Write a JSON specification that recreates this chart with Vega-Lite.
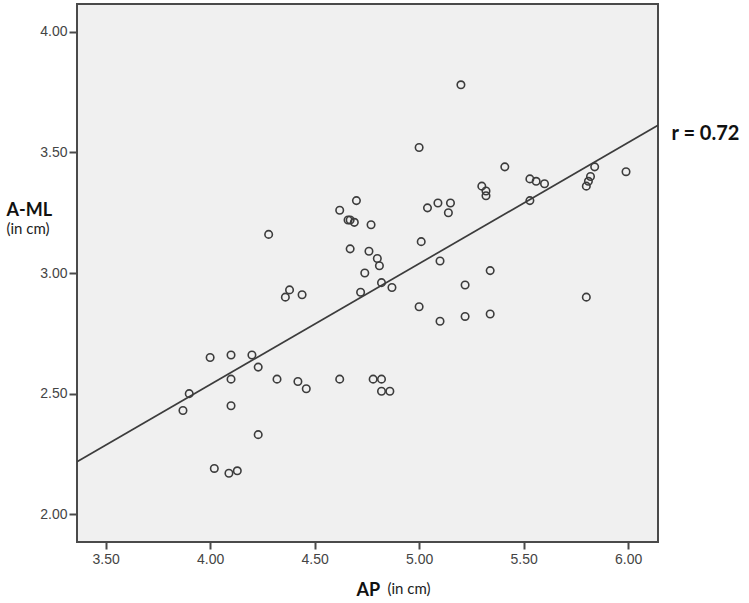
{
  "$schema": "https://vega.github.io/schema/vega-lite/v6.json",
  "width": 581,
  "height": 538,
  "autosize": "none",
  "padding": {"left": 77, "top": 4, "right": 91, "bottom": 61},
  "background": "white",
  "config": {
    "view": {"fill": "#f0f0f0", "stroke": "#4a4a4a", "strokeWidth": 2},
    "axis": {"grid": false, "domain": false}
  },
  "datasets": {
    "pts": [
      {"AP": 4.70, "AML": 3.30}, {"AP": 4.62, "AML": 3.26}, {"AP": 4.66, "AML": 3.22}, {"AP": 4.67, "AML": 3.22},
      {"AP": 4.69, "AML": 3.21}, {"AP": 4.77, "AML": 3.20}, {"AP": 4.28, "AML": 3.16}, {"AP": 4.67, "AML": 3.10},
      {"AP": 4.76, "AML": 3.09}, {"AP": 4.80, "AML": 3.06}, {"AP": 4.81, "AML": 3.03}, {"AP": 4.74, "AML": 3.00},
      {"AP": 4.82, "AML": 2.96}, {"AP": 4.87, "AML": 2.94}, {"AP": 4.72, "AML": 2.92}, {"AP": 4.38, "AML": 2.93},
      {"AP": 4.36, "AML": 2.90}, {"AP": 4.44, "AML": 2.91}, {"AP": 5.20, "AML": 3.78}, {"AP": 5.00, "AML": 3.52},
      {"AP": 5.41, "AML": 3.44}, {"AP": 5.30, "AML": 3.36}, {"AP": 5.32, "AML": 3.34}, {"AP": 5.32, "AML": 3.32},
      {"AP": 5.53, "AML": 3.39}, {"AP": 5.56, "AML": 3.38}, {"AP": 5.60, "AML": 3.37}, {"AP": 5.53, "AML": 3.30},
      {"AP": 5.04, "AML": 3.27}, {"AP": 5.09, "AML": 3.29}, {"AP": 5.15, "AML": 3.29}, {"AP": 5.14, "AML": 3.25},
      {"AP": 5.01, "AML": 3.13}, {"AP": 5.10, "AML": 3.05}, {"AP": 5.84, "AML": 3.44}, {"AP": 5.99, "AML": 3.42},
      {"AP": 5.82, "AML": 3.40}, {"AP": 5.81, "AML": 3.38}, {"AP": 5.80, "AML": 3.36}, {"AP": 5.34, "AML": 3.01},
      {"AP": 5.22, "AML": 2.95}, {"AP": 5.80, "AML": 2.90}, {"AP": 5.00, "AML": 2.86}, {"AP": 5.10, "AML": 2.80},
      {"AP": 5.22, "AML": 2.82}, {"AP": 5.34, "AML": 2.83}, {"AP": 4.82, "AML": 2.56}, {"AP": 4.82, "AML": 2.51},
      {"AP": 4.86, "AML": 2.51}, {"AP": 4.00, "AML": 2.65}, {"AP": 4.10, "AML": 2.66}, {"AP": 4.20, "AML": 2.66},
      {"AP": 4.23, "AML": 2.61}, {"AP": 4.10, "AML": 2.56}, {"AP": 4.32, "AML": 2.56}, {"AP": 4.42, "AML": 2.55},
      {"AP": 4.46, "AML": 2.52}, {"AP": 4.62, "AML": 2.56}, {"AP": 4.78, "AML": 2.56}, {"AP": 3.90, "AML": 2.50},
      {"AP": 3.87, "AML": 2.43}, {"AP": 4.10, "AML": 2.45}, {"AP": 4.23, "AML": 2.33}, {"AP": 4.02, "AML": 2.19},
      {"AP": 4.09, "AML": 2.17}, {"AP": 4.13, "AML": 2.18}
    ],
    "fit": [
      {"AP": 3.363, "AML": 2.218},
      {"AP": 6.143, "AML": 3.612}
    ]
  },
  "layer": [
    {
      "data": {"name": "pts"},
      "mark": {"type": "point", "filled": false, "size": 56, "color": "#3c3c3c", "strokeWidth": 1.6, "opacity": 1},
      "encoding": {
        "x": {
          "field": "AP", "type": "quantitative",
          "scale": {"domain": [3.363, 6.143], "nice": false, "zero": false},
          "axis": {
            "values": [3.5, 4.0, 4.5, 5.0, 5.5, 6.0], "format": ".2f",
            "tickSize": 7, "tickWidth": 2, "tickColor": "#4a4a4a",
            "labelFont": "Liberation Sans", "labelFontSize": 14, "labelColor": "#444444", "labelPadding": 3,
            "title": "AP", "titleFont": "Lato", "titleFontSize": 18, "titleFontWeight": "bold", "titleColor": "#111111",
            "titleAlign": "left", "titleBaseline": "alphabetic", "titleX": 279, "titleY": 53
          }
        },
        "y": {
          "field": "AML", "type": "quantitative",
          "scale": {"domain": [1.885, 4.115], "nice": false, "zero": false},
          "axis": {
            "values": [2.0, 2.5, 3.0, 3.5, 4.0], "format": ".2f",
            "tickSize": 8, "tickWidth": 2, "tickColor": "#4a4a4a",
            "labelFont": "Liberation Sans", "labelFontSize": 14, "labelColor": "#444444", "labelPadding": 2,
            "title": "A-ML", "titleFont": "Lato", "titleFontSize": 18, "titleFontWeight": "bold", "titleColor": "#111111",
            "titleAngle": 0, "titleAlign": "left", "titleBaseline": "alphabetic", "titleX": -71, "titleY": 211
          }
        }
      }
    },
    {
      "data": {"name": "fit"},
      "mark": {"type": "line", "color": "#3c3c3c", "strokeWidth": 1.7, "clip": true},
      "encoding": {
        "x": {"field": "AP", "type": "quantitative", "axis": null},
        "y": {"field": "AML", "type": "quantitative", "axis": null}
      }
    },
    {
      "data": {"name": "pts"},
      "mark": {"type": "point", "opacity": 0},
      "encoding": {
        "x": {
          "field": "AP", "type": "quantitative",
          "axis": {
            "orient": "bottom", "labels": false, "ticks": false, "domain": false,
            "title": "(in cm)", "titleFont": "Lato", "titleFontSize": 15, "titleFontWeight": "normal", "titleColor": "#222222",
            "titleAlign": "left", "titleBaseline": "alphabetic", "titleX": 310, "titleY": 51
          }
        },
        "y": {
          "field": "AML", "type": "quantitative",
          "axis": {
            "orient": "left", "labels": false, "ticks": false, "domain": false,
            "title": "(in cm)", "titleFont": "Lato", "titleFontSize": 15, "titleFontWeight": "normal", "titleColor": "#222222",
            "titleAngle": 0, "titleAlign": "left", "titleBaseline": "alphabetic", "titleX": -71, "titleY": 229
          }
        }
      }
    },
    {
      "data": {"name": "pts"},
      "mark": {"type": "point", "opacity": 0},
      "encoding": {
        "y": {
          "field": "AML", "type": "quantitative",
          "axis": {
            "orient": "right", "labels": false, "ticks": false, "domain": false,
            "title": "r = 0.72", "titleFont": "Lato", "titleFontSize": 20, "titleFontWeight": "bold", "titleColor": "#111111",
            "titleAngle": 0, "titleAlign": "left", "titleBaseline": "alphabetic", "titleX": 13, "titleY": 135
          }
        }
      }
    }
  ],
  "resolve": {"axis": {"x": "independent", "y": "independent"}}
}
